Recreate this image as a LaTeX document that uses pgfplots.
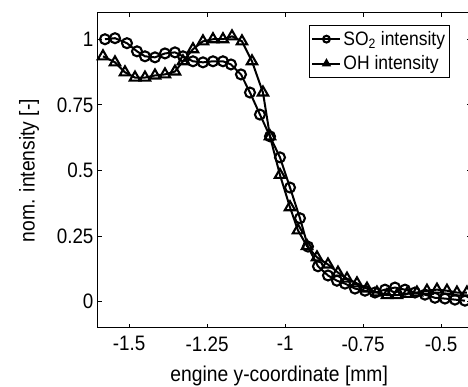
\documentclass[border=0pt]{standalone}
\usepackage{fontspec}
\setmainfont{Liberation Sans}[FakeStretch=0.9]
\usepackage{pgfplots}
\pgfplotsset{compat=1.18}
\begin{document}
\begin{tikzpicture}
\begin{axis}[
  scale only axis,
  width=372.84bp, height=315bp,
  xmin=-1.6, xmax=-0.405, ymin=-0.1, ymax=1.1,
  xtick={-1.5,-1.25,-1,-0.75,-0.5},
  xticklabels={-1.5,-1.25,-1,-0.75,-0.5},
  ytick={0,0.25,0.5,0.75,1},
  yticklabels={0,0.25,0.5,0.75,1},
  tick align=inside,
  major tick length=4bp,
  tick style={black, line width=0.8bp},
  axis line style={black, line width=1bp},
  ticklabel style={font=\fontsize{21}{24}\selectfont},
  xticklabel style={yshift=-5bp},
  yticklabel style={xshift=-1bp},
  xlabel={engine y-coordinate [mm]},
  ylabel={nom. intensity [-]},
  label style={font=\fontsize{21.5}{24}\selectfont},
  xlabel style={at={(axis description cs:0.486,-0.171)}, anchor=base},
  ylabel style={at={(axis description cs:-0.185,0.5)}, anchor=center},
  legend style={at={(axis description cs:0.944,0.962)}, anchor=north east,
    draw=black, line width=0.8bp, font=\fontsize{19.5}{23}\selectfont,
    inner xsep=2.5bp, inner ysep=4bp, row sep=5bp},
  legend cell align=left,
  legend image code/.code={%
    \draw[mark repeat=2,mark phase=2,#1,mark size=3.4bp]
      plot coordinates {(0bp,0bp) (14bp,0bp) (28bp,0bp)};},
]
\addplot[black, line width=2bp, mark=o, mark size=5bp, mark options={line width=2.1bp}]
coordinates {
(-1.5776,1.000) (-1.5455,1.004) (-1.5071,0.985) (-1.4750,0.954) (-1.4494,0.935)
(-1.4173,0.931) (-1.3853,0.946) (-1.3532,0.950) (-1.3276,0.935) (-1.2955,0.916)
(-1.2635,0.912) (-1.2314,0.916) (-1.1994,0.916) (-1.1737,0.904) (-1.1417,0.866)
(-1.1128,0.797) (-1.0808,0.713) (-1.0487,0.630) (-1.0167,0.550) (-0.9846,0.435)
(-0.9526,0.318) (-0.9269,0.210) (-0.8949,0.135) (-0.8628,0.100) (-0.8340,0.080)
(-0.8083,0.069) (-0.7763,0.050) (-0.7442,0.042) (-0.7122,0.035) (-0.6801,0.046)
(-0.6481,0.054) (-0.6160,0.046) (-0.5840,0.035) (-0.5519,0.027) (-0.5199,0.015)
(-0.4878,0.012) (-0.4558,0.008) (-0.4237,0.004)
};
\addlegendentry{SO\textsubscript{2} intensity}
\addplot[black, line width=2bp, mark=triangle, mark size=6bp, mark options={line width=2.1bp}]
coordinates {
(-1.5840,0.935) (-1.5455,0.912) (-1.5135,0.874) (-1.4814,0.854) (-1.4494,0.854)
(-1.4173,0.862) (-1.3853,0.866) (-1.3532,0.877) (-1.3276,0.916) (-1.2955,0.962)
(-1.2635,0.992) (-1.2314,1.000) (-1.1994,1.000) (-1.1705,1.011) (-1.1385,0.992)
(-1.1064,0.916) (-1.0712,0.797) (-1.0487,0.630) (-1.0167,0.483) (-0.9846,0.360)
(-0.9590,0.272) (-0.9301,0.212) (-0.8981,0.169) (-0.8628,0.142) (-0.8308,0.111)
(-0.8019,0.088) (-0.7699,0.070) (-0.7378,0.050) (-0.7058,0.035) (-0.6737,0.025)
(-0.6417,0.025) (-0.6096,0.030) (-0.5776,0.035) (-0.5455,0.042) (-0.5135,0.046)
(-0.4814,0.042) (-0.4494,0.035) (-0.4173,0.035)
};
\addlegendentry{OH intensity}
\end{axis}
\pgfresetboundingbox
\path[use as bounding box] ([xshift=-98bp,yshift=-59bp]current axis.south west)
  rectangle ([xshift=-2.8bp,yshift=13bp]current axis.north east);
\end{tikzpicture}
\end{document}
